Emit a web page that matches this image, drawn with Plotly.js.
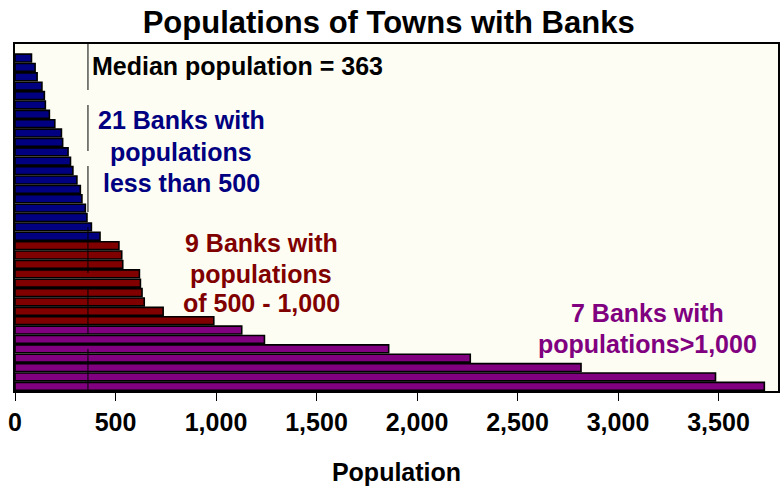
<!DOCTYPE html>
<html>
<head>
<meta charset="utf-8">
<script src="https://cdn.plot.ly/plotly-3.0.1.min.js"></script>
<style>html,body{margin:0;padding:0;background:#fff;}#chart{width:782px;height:487px;}</style>
</head>
<body>
<div id="chart"></div>
<script>
// Populations, sorted ascending (top to bottom)
const bluePops = [82, 100, 110, 134, 146, 151, 171, 198, 231, 237, 264, 276, 288, 308, 325, 333, 350, 358, 380, 423];
const redPops = [517, 531, 536, 619, 624, 632, 643, 737, 989];
const purplePops = [1128, 1241, 1859, 2265, 2816, 3485, 3728];
const medianPop = 363;
const xTicks = [0, 500, 1000, 1500, 2000, 2500, 3000, 3500];

const blueCol = '#000080', redCol = '#800000', purpleCol = '#800080';
const fnt = 'Liberation Sans, Arial, sans-serif';

function idx(start, n) { const a = []; for (let i = 0; i < n; i++) a.push(start + i); return a; }
const yBlue = idx(0, bluePops.length);
const yRed = idx(bluePops.length, redPops.length);
const yPurple = idx(bluePops.length + redPops.length, purplePops.length);
const nBars = bluePops.length + redPops.length + purplePops.length;

function barTrace(x, y, col, name) {
  return {type: 'bar', orientation: 'h', x: x, y: y, name: name, width: 0.84,
    marker: {color: col, line: {color: '#000', width: 1.6}}, hoverinfo: 'x'};
}

const data = [
  barTrace(bluePops, yBlue, blueCol, '< 500'),
  barTrace(redPops, yRed, redCol, '500 - 1,000'),
  barTrace(purplePops, yPurple, purpleCol, '> 1,000')
];

function ann(text, x, y, col, anchor) {
  return {text: text, x: x, y: y, xref: 'paper', yref: 'paper', xanchor: anchor || 'center', yanchor: 'middle',
    showarrow: false, font: {family: fnt, size: 25, color: col, weight: 'bold'}};
}
// paper coords helpers: plot left 15, width 763; top 44, height 347
function px(x) { return (x - 15) / 763; }
function py(y) { return (391 - y) / 347; }

const layout = {
  width: 782, height: 487,
  margin: {l: 15, r: 4, t: 44, b: 96},
  paper_bgcolor: '#ffffff',
  plot_bgcolor: '#FDFDF3',
  showlegend: false,
  title: {text: '<b>Populations of Towns with Banks</b>', x: 0.497, xanchor: 'center', y: 1 - 22/487, yanchor: 'middle', yref: 'container',
    font: {family: fnt, size: 31, color: '#000'}},
  xaxis: {range: [0, 3796], tickvals: xTicks, tickformat: ',', ticks: 'outside', ticklen: 8, tickcolor: '#000', tickwidth: 1,
    showgrid: false, zeroline: false, showline: true, linecolor: '#000', linewidth: 2, mirror: true,
    tickfont: {family: fnt, size: 25, color: '#000', weight: 'bold'},
    title: {text: '<b>Population</b>', font: {family: fnt, size: 25, color: '#000'}, standoff: 28}},
  yaxis: {range: [nBars - 0.5, -1.5], showticklabels: false, ticks: '', showgrid: false, zeroline: false,
    showline: true, linecolor: '#000', linewidth: 2, mirror: true},
  shapes: [{type: 'line', xref: 'x', yref: 'paper', x0: medianPop, x1: medianPop, y0: 1, y1: 0,
    line: {color: '#000', width: 1, dash: '46px,15px'}, layer: 'above'}],
  annotations: [
    ann('Median population = ' + medianPop, px(90), py(66), '#000', 'left'),
    ann('21 Banks with', px(181), py(120), blueCol),
    ann('populations', px(181), py(152), blueCol),
    ann('less than 500', px(181), py(183), blueCol),
    ann('9 Banks with', px(261), py(243), redCol),
    ann('populations', px(261), py(274), redCol),
    ann('of 500 - 1,000', px(261), py(303), redCol),
    ann('7 Banks with', px(647), py(313), purpleCol),
    ann('populations>1,000', px(647), py(344), purpleCol)
  ]
};

Plotly.newPlot('chart', data, layout, {displayModeBar: false, staticPlot: true});
</script>
</body>
</html>
